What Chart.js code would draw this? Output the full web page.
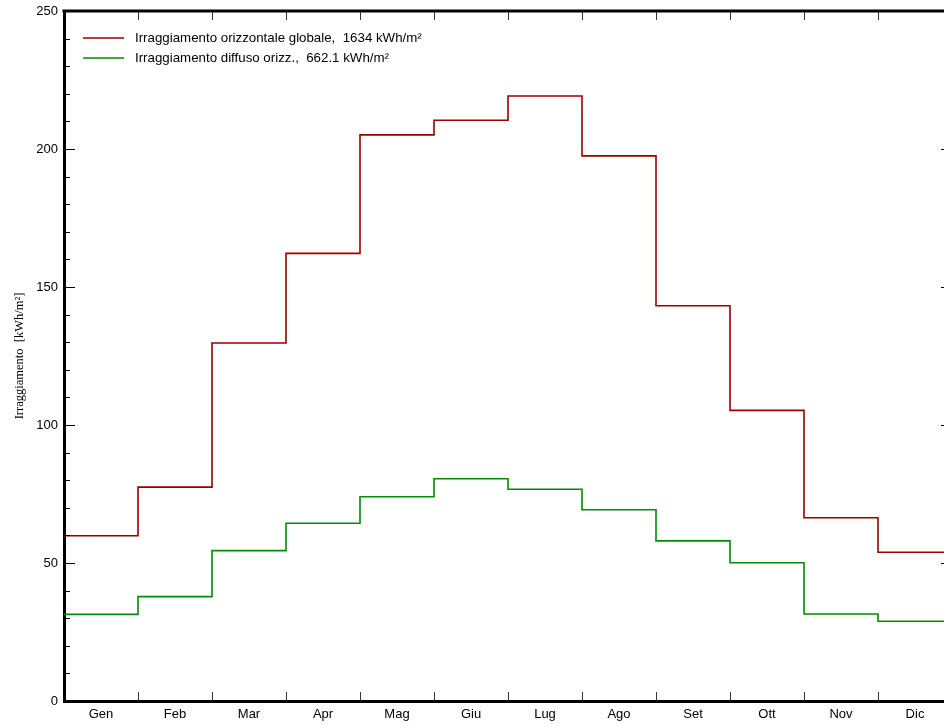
<!DOCTYPE html>
<html>
<head>
<meta charset="utf-8">
<script src="https://cdn.jsdelivr.net/npm/chart.js@4.4.1/dist/chart.umd.min.js"></script>
<style>
  html, body { margin: 0; padding: 0; background: #fff; overflow: hidden; }
  #wrap { width: 960px; height: 727px; }
</style>
</head>
<body>
<div id="wrap"><canvas id="c" width="960" height="727"></canvas></div>
<script>
// ---- data ----
const months = ["Gen","Feb","Mar","Apr","Mag","Giu","Lug","Ago","Set","Ott","Nov","Dic"];
const globalIrr = [59.9, 77.5, 129.7, 162.2, 205.1, 210.4, 219.2, 197.5, 143.2, 105.3, 66.4, 53.9];
const diffuseIrr = [31.4, 37.8, 54.5, 64.4, 74.0, 80.5, 76.7, 69.3, 58.0, 50.1, 31.5, 28.9];
const seriesLabels = ["Irraggiamento orizzontale globale,  1634 kWh/m²", "Irraggiamento diffuso orizz.,  662.1 kWh/m²"];
const seriesColors = ["#990000", "#008c00"];
const yTicks = [0, 50, 100, 150, 200, 250];
const yTitle = "Irraggiamento  [kWh/m²]";

function stepData(vals) {
  const pts = vals.map((v, i) => ({ x: i, y: v }));
  pts.push({ x: vals.length, y: vals[vals.length - 1] });
  return pts;
}

const innerTicks = {
  id: 'innerTicks',
  afterDraw(chart) {
    const ctx = chart.ctx, a = chart.chartArea;
    const xs = chart.scales.x, ys = chart.scales.y;
    ctx.save();
    ctx.strokeStyle = '#000';
    ctx.lineWidth = 1;
    for (let v = 0; v <= 250; v += 10) {
      const p = Math.round(ys.getPixelForValue(v)) + 0.5;
      const len = (v % 50 === 0) ? 11 : 6;
      ctx.beginPath(); ctx.moveTo(a.left, p); ctx.lineTo(a.left + len, p); ctx.stroke();
    }
    yTicks.forEach(v => {
      const p = Math.round(ys.getPixelForValue(v)) + 0.5;
      ctx.beginPath(); ctx.moveTo(a.right - 11, p); ctx.lineTo(a.right, p); ctx.stroke();
    });
    ctx.strokeStyle = '#333';
    for (let i = 1; i < months.length; i++) {
      const p = Math.round(xs.getPixelForValue(i)) + 0.5;
      ctx.beginPath(); ctx.moveTo(p, a.bottom); ctx.lineTo(p, a.bottom - 9); ctx.stroke();
      ctx.beginPath(); ctx.moveTo(p, a.top); ctx.lineTo(p, a.top + 9); ctx.stroke();
    }
    ctx.strokeStyle = '#000';
    ctx.lineWidth = 3;
    ctx.beginPath(); ctx.moveTo(a.left - 1.5, a.top); ctx.lineTo(a.right, a.top); ctx.lineTo(a.right, a.bottom); ctx.stroke();
    ctx.font = '13.3px "Liberation Sans", Arial, sans-serif';
    ctx.textBaseline = 'middle';
    ctx.textAlign = 'left';
    chart.data.datasets.forEach((ds, i) => {
      const y = a.top + 27 + i * 20;
      ctx.strokeStyle = ds.borderColor;
      ctx.lineWidth = 1.5;
      ctx.beginPath(); ctx.moveTo(a.left + 19, y); ctx.lineTo(a.left + 60, y); ctx.stroke();
      ctx.fillStyle = '#000';
      ctx.fillText(ds.label, a.left + 71, y);
    });
    ctx.restore();
  }
};

new Chart(document.getElementById('c'), {
  type: 'line',
  data: {
    datasets: [
      { label: seriesLabels[0], data: stepData(globalIrr), borderColor: seriesColors[0], borderWidth: 1.6, stepped: 'before', pointRadius: 0, fill: false },
      { label: seriesLabels[1], data: stepData(diffuseIrr), borderColor: seriesColors[1], borderWidth: 1.6, stepped: 'before', pointRadius: 0, fill: false }
    ]
  },
  options: {
    responsive: false,
    animation: false,
    layout: { padding: { top: 11, right: 8, left: 0, bottom: 0 } },
    plugins: { legend: { display: false }, tooltip: { enabled: false } },
    scales: {
      x: {
        type: 'linear', min: 0, max: 12,
        grid: { display: false, drawTicks: false },
        border: { display: true, color: '#000', width: 3 },
        afterBuildTicks: s => { s.ticks = months.map((m, i) => ({ value: i + 0.5 })); },
        afterFit: s => { s.height = 26; s.paddingLeft = 0; s.paddingRight = 0; },
        ticks: {
          autoSkip: false, maxRotation: 0, padding: 6, color: '#000',
          font: { family: '"Liberation Sans", Arial, sans-serif', size: 13 },
          callback: (v, i) => months[i]
        }
      },
      y: {
        min: 0, max: 250,
        grid: { display: false, drawTicks: false },
        border: { display: true, color: '#000', width: 3 },
        afterBuildTicks: s => { s.ticks = yTicks.map(v => ({ value: v })); },
        afterFit: s => { s.width = 64; s.paddingTop = 0; s.paddingBottom = 0; },
        ticks: {
          padding: 6, color: '#000',
          font: { family: '"Liberation Sans", Arial, sans-serif', size: 13 }
        },
        title: {
          display: true, text: yTitle, color: '#000',
          font: { family: '"Liberation Serif", "Times New Roman", serif', size: 12.5 },
          padding: { top: 12, bottom: 0 }
        }
      }
    }
  },
  plugins: [innerTicks]
});
</script>
</body>
</html>
